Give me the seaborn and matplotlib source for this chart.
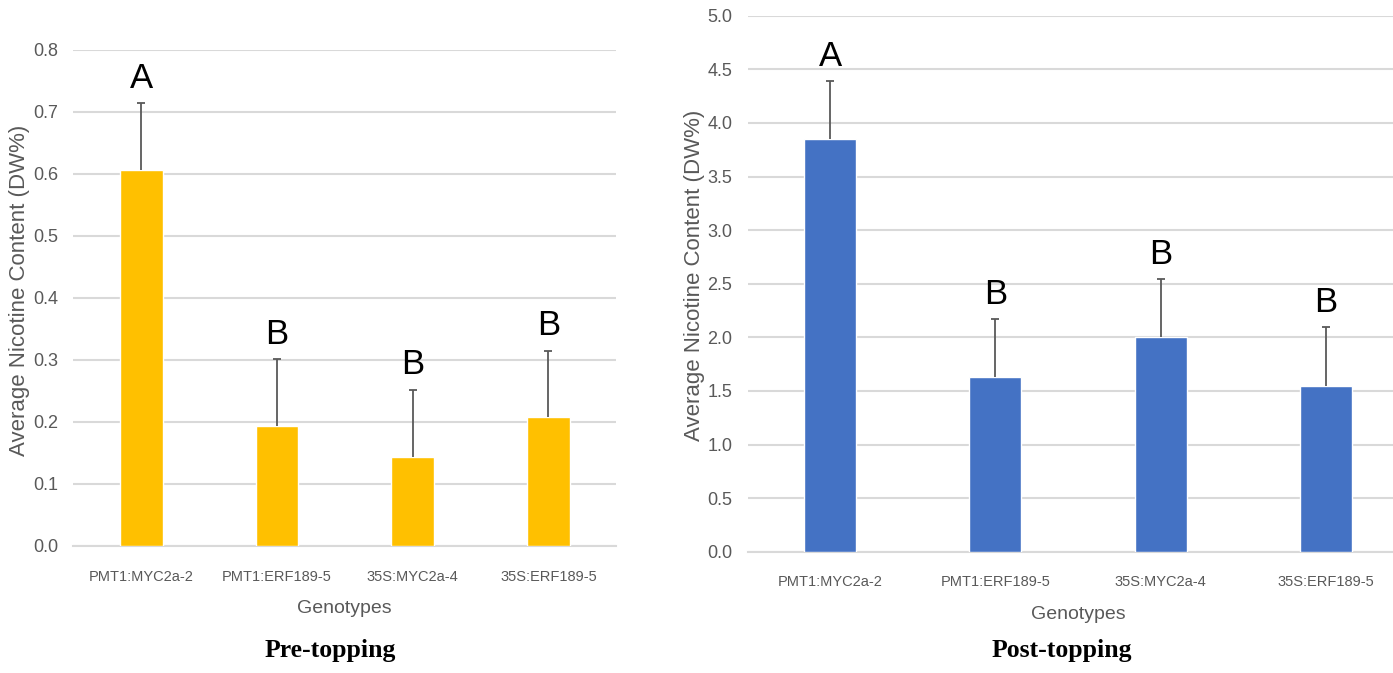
import matplotlib
matplotlib.use("Agg")
import matplotlib.pyplot as plt
import seaborn as sns
import pandas as pd

# Genotypes and nicotine measurements (DW%)
genotypes = ["PMT1:MYC2a-2", "PMT1:ERF189-5", "35S:MYC2a-4", "35S:ERF189-5"]
pre_mean = [0.606, 0.194, 0.144, 0.208]
pre_err = [0.108, 0.107, 0.108, 0.107]
pre_letters = ["A", "B", "B", "B"]
post_mean = [3.85, 1.627, 2.00, 1.546]
post_err = [0.54, 0.545, 0.544, 0.547]
post_letters = ["A", "B", "B", "B"]

sns.set_theme(style="white")
sans = ["Liberation Sans", "DejaVu Sans"]
plt.rcParams["font.family"] = sans

TEXT_GRAY = "#595959"
GRID_GRAY = "#D9D9D9"

fig = plt.figure(figsize=(13.93, 6.73), dpi=100)
ax_pre = fig.add_axes([73.3 / 1393, (673 - 546) / 673, 543 / 1393, 496 / 673])
ax_post = fig.add_axes([747.5 / 1393, (673 - 551.7) / 673, 661 / 1393, 536 / 673])


def draw_panel(ax, means, errs, letters, color, ymax, step, label_x):
    df = pd.DataFrame({"Genotype": genotypes, "Nicotine": means})
    sns.barplot(data=df, x="Genotype", y="Nicotine", color=color,
                width=0.315, saturation=1, ax=ax, zorder=3)
    pos = list(range(len(genotypes)))
    eb = ax.errorbar(pos, means, yerr=[[0] * len(errs), errs], fmt="none",
                     ecolor="#595959", elinewidth=1.3, capsize=3.2,
                     capthick=1.3, zorder=4)
    # only the upper cap is shown (plus-direction error bars)
    eb[1][0].set_visible(False)
    for i, (m, e, lab) in enumerate(zip(means, errs, letters)):
        ax.annotate(lab, (i, m + e), xytext=(0, 6), textcoords="offset points",
                    ha="center", va="bottom", fontsize=25, color="black")
    ax.set_xlim(-0.5, len(genotypes) - 0.5)
    ax.set_ylim(0, ymax)
    ticks = [round(k * step, 2) for k in range(int(round(ymax / step)) + 1)]
    ax.set_yticks(ticks)
    ax.set_yticklabels([f"{t:.1f}" for t in ticks])
    ax.yaxis.grid(True, color=GRID_GRAY, linewidth=1.5, zorder=0)
    ax.set_axisbelow(True)
    for side in ["top", "right", "left"]:
        ax.spines[side].set_visible(False)
    ax.spines["bottom"].set_color(GRID_GRAY)
    ax.spines["bottom"].set_linewidth(1.5)
    ax.tick_params(axis="y", length=0, pad=11, labelsize=13,
                   labelcolor=TEXT_GRAY)
    ax.tick_params(axis="x", length=0, pad=17, labelsize=10.5,
                   labelcolor=TEXT_GRAY)
    ax.set_xlabel("Genotypes", fontsize=14, color=TEXT_GRAY, labelpad=12)
    ax.set_ylabel("Average Nicotine Content (DW%)", fontsize=16,
                  color=TEXT_GRAY)
    ax.yaxis.set_label_coords(label_x, 0.515)


draw_panel(ax_pre, pre_mean, pre_err, pre_letters, "#FFC000", 0.8, 0.1, -0.079)
draw_panel(ax_post, post_mean, post_err, post_letters, "#4472C4", 5.0, 0.5, -0.064)

title_font = dict(fontsize=18.5, fontweight="bold", color="black",
                  family=["Liberation Serif", "DejaVu Serif"],
                  ha="center", va="baseline")
fig.text(330 / 1393, 1 - 657 / 673, "Pre-topping", **title_font)
fig.text(1062 / 1393, 1 - 657 / 673, "Post-topping", **title_font)

fig.savefig("out.png", dpi=100, facecolor="white")
